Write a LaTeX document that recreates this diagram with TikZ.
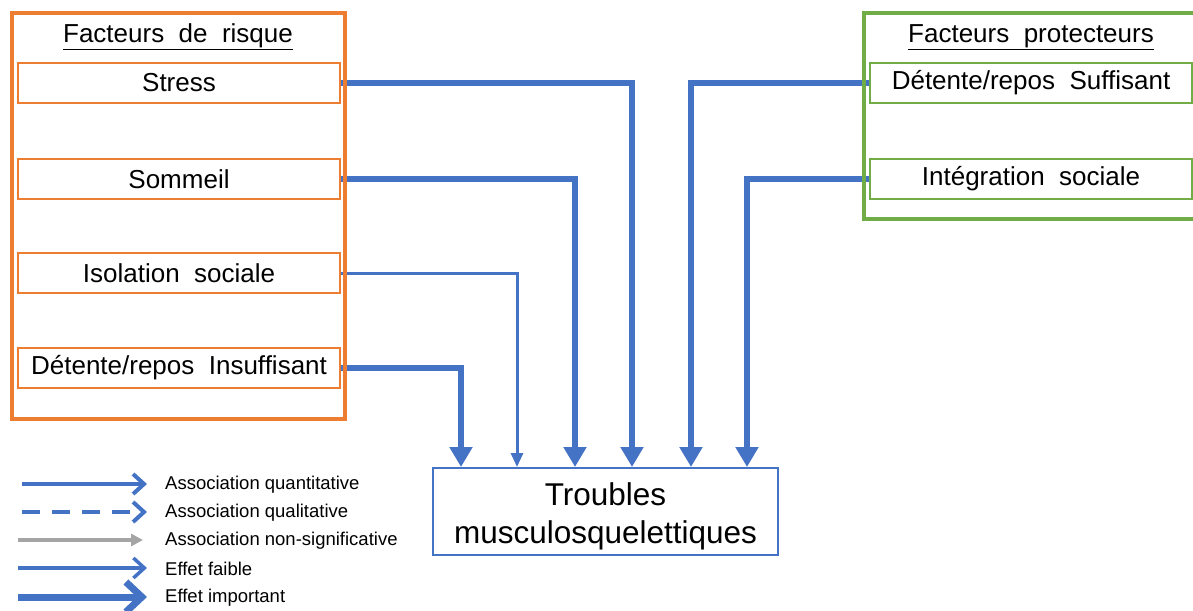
\documentclass[tikz,border=0pt]{standalone}
\usepackage{fontspec}
\setmainfont{Liberation Sans}
\usetikzlibrary{arrows.meta,backgrounds}
\definecolor{ppOrange}{HTML}{ED7D31}
\definecolor{ppGreen}{HTML}{70AD47}
\definecolor{ppBlue}{HTML}{4472C4}
\definecolor{ppGray}{HTML}{A5A5A5}
\tikzset{
  outerO/.style={draw=ppOrange, line width=3.2pt, inner sep=0pt},
  outerG/.style={draw=ppGreen, line width=3.2pt, inner sep=0pt},
  innerO/.style={draw=ppOrange, line width=2pt, fill=white, inner sep=0pt, minimum width=322pt, minimum height=40pt, font=\fontsize{26}{30}\selectfont},
  innerG/.style={draw=ppGreen, line width=2pt, fill=white, inner sep=0pt, minimum width=322pt, minimum height=40pt, font=\fontsize{26}{30}\selectfont},
  titletxt/.style={inner sep=0pt, font=\fontsize{26}{30}\selectfont},
  troubbox/.style={draw=ppBlue, line width=2pt, fill=white, inner sep=0pt, minimum width=345pt, minimum height=87pt},
  troubtxt/.style={inner sep=0pt, align=center, font=\fontsize{31.5}{38}\selectfont},
  bigarrow/.style={draw=ppBlue, line width=6pt, -{Triangle[width=22pt,length=20pt]}},
  smallarrow/.style={draw=ppBlue, line width=3pt, -{Triangle[width=12pt,length=14pt]}},
  legtxt/.style={anchor=west, inner sep=0pt, font=\fontsize{18.5}{22}\selectfont},
  legquant/.style={draw=ppBlue, line width=4pt, -{Straight Barb[length=11pt,width=20pt]}},
  legqual/.style={draw=ppBlue, line width=4pt, dash pattern=on 18pt off 12pt, -{Straight Barb[length=11pt,width=20pt]}},
  legns/.style={draw=ppGray, line width=3.5pt, -{Triangle[width=12pt,length=12pt]}},
  legfaible/.style={draw=ppBlue, line width=3.5pt, -{Straight Barb[length=11pt,width=20pt]}},
  legimp/.style={draw=ppBlue, line width=7pt, -{Straight Barb[length=16pt,width=30pt]}}
}
\begin{document}
\begin{tikzpicture}[x=1pt,y=-1pt]
\useasboundingbox (0,0) rectangle (1193,610);
\clip (0,0) rectangle (1193,610);
% risk factors
\node[outerO, minimum width=333pt, minimum height=406pt] (risk) at (178.5,216) {};
\node[titletxt] (riskT) at (178,37) {\underline{Facteurs\ \ de\ \ risque}};
\node[innerO] (stress) at (179,83) {Stress};
\node[innerO] (sommeil) at (179,179) {Sommeil};
\node[innerO] (isol) at (179,273) {Isolation\ \ sociale};
\node[innerO] (detI) at (179,368) {Détente/repos\ \ Insuffisant};
% protective factors
\node[outerG, minimum width=336pt, minimum height=206pt] (prot) at (1032,116) {};
\node[titletxt] (protT) at (1031,37) {\underline{Facteurs\ \ protecteurs}};
\node[innerG] (detS) at (1031,83) {Détente/repos\ \ Suffisant};
\node[innerG] (integ) at (1031,179) {Intégration\ \ sociale};
% outcome
\node[troubbox] (tms) at (605.5,511.5) {};
\node[troubtxt] (tmstext) at ([yshift=-5pt]tms.center) {Troubles\\musculosquelettiques};
% connectors
\begin{scope}[on background layer]
\draw[bigarrow] (stress.east) -| ([xshift=200pt]tms.north west);
\draw[bigarrow] (sommeil.east) -| ([xshift=143pt]tms.north west);
\draw[smallarrow] (isol.east) -| ([xshift=85pt]tms.north west);
\draw[bigarrow] (detI.east) -| ([xshift=29pt]tms.north west);
\draw[bigarrow] (detS.west) -| ([xshift=259pt]tms.north west);
\draw[bigarrow] (integ.west) -| ([xshift=315pt]tms.north west);
\end{scope}
% legend
\coordinate (l1a) at (22,484); \coordinate (l1b) at (147,484);
\coordinate (l2a) at (22,512); \coordinate (l2b) at (147,512);
\coordinate (l3a) at (18,540); \coordinate (l3b) at (143,540);
\coordinate (l4a) at (18,568); \coordinate (l4b) at (147,568);
\coordinate (l5a) at (18,597); \coordinate (l5b) at (147,597);
\draw[legquant] (l1a) -- (l1b);
\draw[legqual] (l2a) -- (l2b);
\draw[legns] (l3a) -- (l3b);
\draw[legfaible] (l4a) -- (l4b);
\draw[legimp] (l5a) -- (l5b);
\node[legtxt] (t1) at (165,485) {Association quantitative};
\node[legtxt] (t2) at (165,513) {Association qualitative};
\node[legtxt] (t3) at (165,541) {Association non-significative};
\node[legtxt] (t4) at (165,569) {Effet faible};
\node[legtxt] (t5) at (165,598) {Effet important};
\end{tikzpicture}
\end{document}
